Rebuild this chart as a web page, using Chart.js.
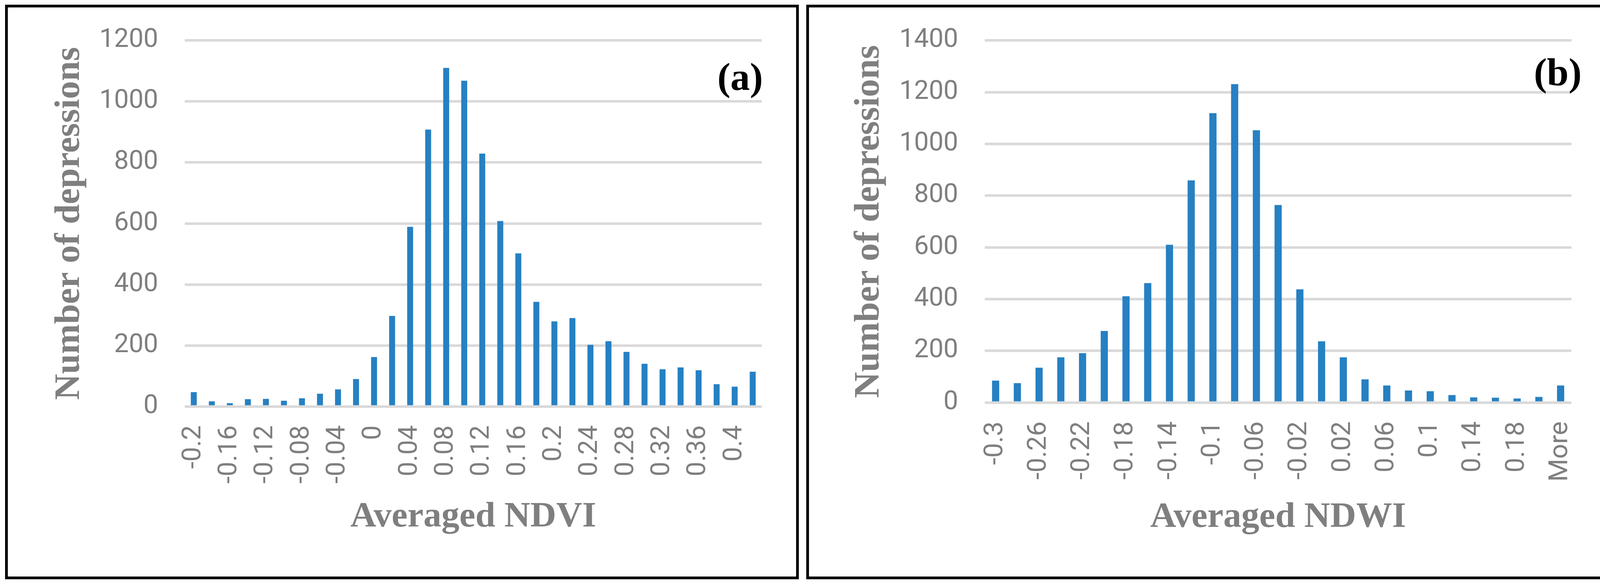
<!DOCTYPE html>
<html>
<head>
<meta charset="utf-8">
<script src="https://cdn.jsdelivr.net/npm/chart.js@4.4.1/dist/chart.umd.min.js"></script>
<style>
  html, body { margin: 0; padding: 0; background: #fff; }
  body { width: 4127px; height: 1489px; position: relative; overflow: hidden; }
  .panel { position: absolute; border: 7px solid #000; box-sizing: border-box; }
  .panel canvas { position: absolute; left: 0; top: 0; }
</style>
</head>
<body>
<div class="panel" style="left:13px; top:12px; width:2032px; height:1470px;">
  <canvas id="ndvi" width="2018" height="1456"></canvas>
</div>
<div class="panel" style="left:2064px; top:12px; width:2054px; height:1470px;">
  <canvas id="ndwi" width="2040" height="1456"></canvas>
</div>
<script>
// histogram bins (a) averaged NDVI
const ndviBins = ['-0.2', '-0.18', '-0.16', '-0.14', '-0.12', '-0.1', '-0.08', '-0.06',
  '-0.04', '-0.02', '0', '0.02', '0.04', '0.06', '0.08', '0.1', '0.12', '0.14', '0.16',
  '0.18', '0.2', '0.22', '0.24', '0.26', '0.28', '0.3', '0.32', '0.34', '0.36', '0.38',
  '0.4', 'More'];
const ndviCounts = [47, 17, 11, 24, 25, 19, 27, 42, 56, 90, 162, 297, 589, 908, 1110, 1068,
  829, 608, 502, 343, 279, 290, 202, 214, 179, 140, 122, 128, 119, 73, 65, 114];

// histogram bins (b) averaged NDWI
const ndwiBins = ['-0.3', '-0.28', '-0.26', '-0.24', '-0.22', '-0.2', '-0.18', '-0.16',
  '-0.14', '-0.12', '-0.1', '-0.08', '-0.06', '-0.04', '-0.02', '0', '0.02', '0.04',
  '0.06', '0.08', '0.1', '0.12', '0.14', '0.16', '0.18', '0.2', 'More'];
const ndwiCounts = [85, 75, 135, 175, 191, 277, 411, 462, 610, 859, 1119, 1231, 1053, 764,
  438, 237, 175, 90, 66, 47, 44, 29, 20, 19, 16, 22, 66];

// y axis ticks
const ndviYTicks = [0, 200, 400, 600, 800, 1000, 1200];
const ndwiYTicks = [0, 200, 400, 600, 800, 1000, 1200, 1400];

const GREY = '#7f7f7f';
const BLUE = '#2680c2';
const tickFont = { family: 'Roboto, "Open Sans", sans-serif', size: 67 };
const titleFont = { family: '"Liberation Serif", "Times New Roman", serif', size: 92, weight: 'bold' };

// draws the (a) / (b) tag
const panelTag = {
  id: 'panelTag',
  afterDraw(chart, args, opts) {
    const ctx = chart.ctx;
    ctx.save();
    ctx.font = 'bold 100px "Liberation Serif", "Times New Roman", serif';
    ctx.fillStyle = '#000';
    ctx.textAlign = 'right';
    ctx.textBaseline = 'alphabetic';
    ctx.fillText(opts.text, opts.x, opts.y);
    ctx.restore();
  }
};

function makeHist(id, bins, counts, yTicks, xTitle, g) {
  return new Chart(document.getElementById(id), {
    type: 'bar',
    data: {
      labels: bins,
      datasets: [{
        data: counts,
        backgroundColor: BLUE,
        borderWidth: 0,
        barPercentage: 0.33,
        categoryPercentage: 1
      }]
    },
    options: {
      responsive: false,
      animation: false,
      devicePixelRatio: 1,
      layout: { padding: { left: 0, top: 84.5, right: 88, bottom: 0 } },
      plugins: {
        legend: { display: false },
        tooltip: { enabled: false },
        panelTag: g.tag
      },
      scales: {
        x: {
          grid: { display: false, drawTicks: false },
          border: { display: false },
          ticks: {
            autoSkip: false,
            maxRotation: 90,
            minRotation: 90,
            padding: 48,
            color: GREY,
            font: tickFont,
            callback: function (v, i) { return i % 2 === 0 ? this.getLabelForValue(v) : ''; }
          },
          title: {
            display: true,
            text: xTitle,
            color: GREY,
            font: titleFont,
            padding: { top: 0, bottom: g.xTitlePad }
          },
          // fixed size, and no extra side padding from the rotated labels
          afterFit: s => { s.height = g.xHeight; s.paddingLeft = 0; s.paddingRight = 0; }
        },
        y: {
          min: yTicks[0],
          max: yTicks[yTicks.length - 1],
          afterBuildTicks: s => { s.ticks = yTicks.map(v => ({ value: v })); },
          grid: { color: '#d9d9d9', lineWidth: 6.5, drawTicks: false },
          border: { display: false },
          ticks: {
            padding: 68,
            color: GREY,
            font: tickFont,
            callback: v => String(v)
          },
          title: {
            display: true,
            text: 'Number of depressions',
            color: GREY,
            font: titleFont,
            padding: { top: g.yTitlePad, bottom: 0 }
          },
          afterFit: s => { s.width = g.yWidth; s.paddingTop = 0; s.paddingBottom = 0; }
        }
      }
    },
    plugins: [panelTag]
  });
}

makeHist('ndvi', ndviBins, ndviCounts, ndviYTicks, 'Averaged NDVI', {
  xHeight: 435, yWidth: 453, xTitlePad: 97, yTitlePad: 103,
  tag: { text: '(a)', x: 1933, y: 211 }
});

makeHist('ndwi', ndwiBins, ndwiCounts, ndwiYTicks, 'Averaged NDWI', {
  xHeight: 445, yWidth: 450, xTitlePad: 96, yTitlePad: 99,
  tag: { text: '(b)', x: 1978, y: 199 }
});
</script>
</body>
</html>
